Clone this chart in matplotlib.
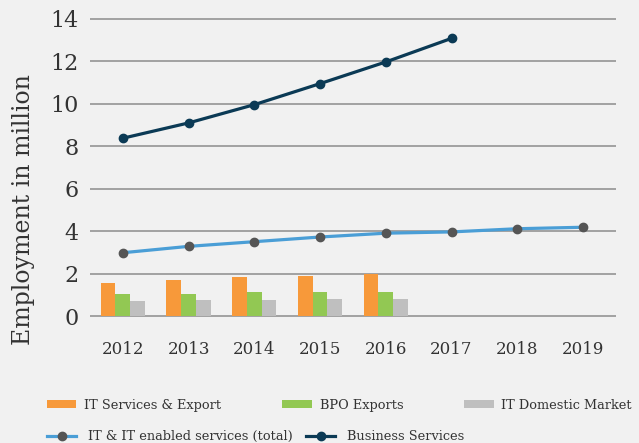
# Employment in IT / business services, India 2012-2019

import numpy as np
from matplotlib import pyplot as plt

years = ['2012', '2013', '2014', '2015', '2016', '2017', '2018', '2019']

# bar series (2012-2016)
it_services = [1.58, 1.71, 1.85, 1.89, 2.0]
bpo_exports = [1.03, 1.03, 1.12, 1.12, 1.16]
it_domestic = [0.71, 0.76, 0.76, 0.80, 0.80]

# line series
it_total = [2.99, 3.29, 3.51, 3.73, 3.91, 3.97, 4.12, 4.19]
business = [8.38, 9.10, 9.96, 10.95, 11.97, 13.08]

plt.rcParams['font.family'] = ['DejaVu Serif']
txt = '#333333'
bg = '#f1f1f1'

fig = plt.figure(figsize=(6.39, 4.43), dpi=100, facecolor=bg)
ax = fig.add_axes([0.1408, 0.2813, 0.823, 0.681], facecolor=bg)

x = np.arange(len(years))
w = 0.224
nb = len(it_services)
b1 = ax.bar(x[:nb] - w, it_services, w, color='#f7993a', label='IT Services & Export', zorder=2)
b2 = ax.bar(x[:nb], bpo_exports, w, color='#92c853', label='BPO Exports', zorder=2)
b3 = ax.bar(x[:nb] + w, it_domestic, w, color='#bfbfbf', label='IT Domestic Market', zorder=2)

l1, = ax.plot(x[:len(it_total)], it_total, color='#4a9ed6', lw=2.3, marker='o', ms=6,
              mfc='#555555', mec='#555555', label='IT & IT enabled services (total)', zorder=3)
l2, = ax.plot(x[:len(business)], business, color='#0b3a55', lw=2.3, marker='o', ms=6,
              mfc='#0b3a55', mec='#0b3a55', label='Business Services', zorder=3)

ax.set_xlim(-0.5, 7.5)
ax.set_ylim(-0.1, 14.1)
ax.set_yticks(range(0, 15, 2))
ax.set_xticks(x)
ax.set_xticklabels(years, fontsize=12, color=txt)
ax.tick_params(axis='y', labelsize=16, labelcolor=txt, length=0, pad=8)
ax.tick_params(axis='x', length=0, pad=16)
ax.grid(axis='y', color='#9b9b9b', lw=1.3, zorder=0)
for s in ax.spines.values():
    s.set_visible(False)
ax.set_ylabel('Employment in million', fontsize=17, color=txt)
ax.yaxis.set_label_coords(-0.105, 0.36)

leg1 = fig.legend(handles=[b1, b2, b3], loc='center left', bbox_to_anchor=(0.055, 0.085),
                  ncol=3, frameon=False, fontsize=9.3, handlelength=2.3, handleheight=0.6,
                  handletextpad=0.6, columnspacing=4.7, labelcolor=txt)
leg2 = fig.legend(handles=[l1, l2], loc='center left', bbox_to_anchor=(0.055, 0.014),
                  ncol=2, frameon=False, fontsize=9.3, handlelength=2.3,
                  handletextpad=0.9, columnspacing=1.0, labelcolor=txt)

plt.savefig('out.png', dpi=100, facecolor=bg)
